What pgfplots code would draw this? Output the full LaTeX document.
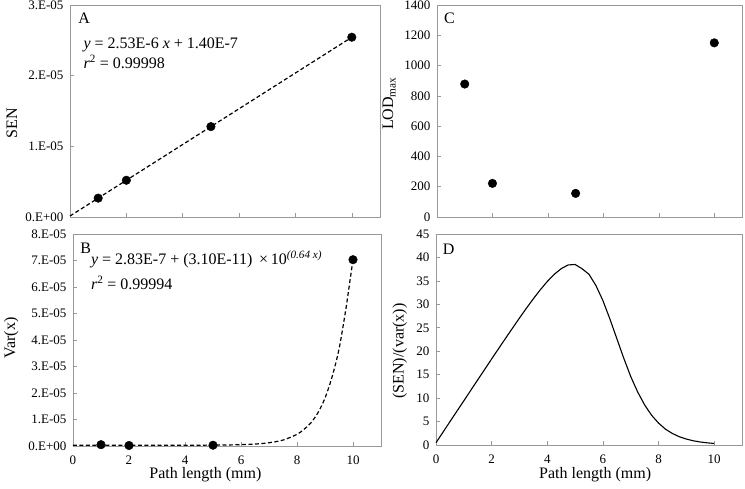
\documentclass[border=0pt]{standalone}
\usepackage{fontspec}
\setmainfont{Liberation Serif}
\usepackage{pgfplots}
\pgfplotsset{compat=1.18}

\newcommand{\ann}{\fontsize{16}{19}\selectfont}

\pgfplotsset{
  panel/.style={
    scale only axis, anchor=south west, clip=false,
    xmin=0, xmax=11, xtick={0,2,...,10},
    xtick pos=bottom, ytick pos=left, tick align=inside,
    axis line style={draw=gray!80, line width=0.8pt},
    tick style={draw=gray!80, line width=0.6pt},
    major tick length=4pt,
    tick label style={font=\fontsize{13}{15}\selectfont},
    label style={font=\ann},
    /pgf/number format/assume math mode=true,
    /pgf/number format/1000 sep={},
    yticklabel style={xshift=-3pt},
    xticklabel style={yshift=-6pt},
  },
  fitline/.style={black, line width=1.2pt, dash pattern=on 4pt off 2.5pt},
  dots/.style={only marks, mark=*, mark size=4.3pt, black},
}

\begin{document}
\begin{tikzpicture}
\useasboundingbox (0,0) rectangle (745pt,488pt);

% A
\begin{axis}[panel, at={(70pt,271pt)}, width=310pt, height=212pt,
  ymin=0, ymax=3e-5, ytick={0,1e-5,2e-5,3e-5},
  yticklabels={0.E+00,1.E-05,2.E-05,3.E-05}, scaled y ticks=false,
  xticklabels={},
  ylabel={SEN}, ylabel style={at={(axis description cs:-0.187,0.443)}, anchor=center}]
  \addplot[fitline] coordinates {(0,1.40e-7) (10,2.544e-5)};
  \addplot[dots] coordinates {(1,2.67e-6) (2,5.20e-6) (5,1.279e-5) (10,2.544e-5)};
  \node[anchor=north west, inner sep=0, font=\ann] at (axis description cs:0.026,0.962) {A};
  \node[anchor=base west, inner sep=0, font=\ann] at (axis description cs:0.043,0.796)
    {\textit{y} = 2.53E-6 \textit{x} + 1.40E-7};
  \node[anchor=base west, inner sep=0, font=\ann] at (axis description cs:0.043,0.70)
    {\textit{r}\textsuperscript{2} = 0.99998};
\end{axis}

% B
\begin{axis}[panel, at={(73pt,42pt)}, width=308pt, height=212pt,
  ymin=0, ymax=8e-5, ytick={0,1e-5,2e-5,3e-5,4e-5,5e-5,6e-5,7e-5,8e-5},
  yticklabels={0.E+00,1.E-05,2.E-05,3.E-05,4.E-05,5.E-05,6.E-05,7.E-05,8.E-05},
  scaled y ticks=false,
  xlabel={Path length (mm)}, xlabel style={at={(axis description cs:0.43,-0.137)}, anchor=center},
  ylabel={Var(x)}, ylabel style={at={(axis description cs:-0.2,0.51)}, anchor=center}]
  \addplot[fitline, smooth] coordinates {
    (0,3.0e-7) (1,3.0e-7) (2,3.0e-7) (3,3.0e-7) (4,3.1e-7) (5,3.3e-7)
    (5.5,3.9e-7) (6,5.0e-7) (6.5,7.3e-7) (7,1.22e-6) (7.5,2.24e-6)
    (8,4.4e-6) (8.25,6.3e-6) (8.5,8.8e-6) (8.75,1.26e-5) (9,1.81e-5)
    (9.25,2.6e-5) (9.5,3.65e-5) (9.75,5.2e-5) (9.9,6.3e-5) (10,7.03e-5)};
  \addplot[dots] coordinates {(1,5e-7) (2,2e-7) (5,3e-7) (10,7.03e-5)};
  \node[anchor=north west, inner sep=0, font=\ann] at (axis description cs:0.023,0.959) {B};
  \node[anchor=base west, inner sep=0, font=\ann] at (axis description cs:0.058,0.854)
    {\textit{y} = 2.83E-7 + (3.10E-11) \,×\,10\textsuperscript{\textit{(0.64 x)}}};
  \node[anchor=base west, inner sep=0, font=\ann] at (axis description cs:0.058,0.736)
    {\textit{r}\textsuperscript{2} = 0.99994};
\end{axis}

% C
\begin{axis}[panel, at={(437pt,271pt)}, width=305pt, height=212pt,
  ymin=0, ymax=1400, ytick={0,200,...,1400},
  xticklabels={},
  ylabel={LOD\textsubscript{max}}, ylabel style={at={(axis description cs:-0.157,0.535)}, anchor=center}]
  \addplot[dots] coordinates {(1,878) (2,222) (5,156) (10,1150)};
  \node[anchor=north west, inner sep=0, font=\ann] at (axis description cs:0.023,0.962) {C};
\end{axis}

% D
\begin{axis}[panel, at={(436pt,43pt)}, width=306pt, height=211pt,
  ymin=0, ymax=45, ytick={0,5,...,45},
  xlabel={Path length (mm)}, xlabel style={at={(axis description cs:0.52,-0.142)}, anchor=center},
  ylabel={(SEN)/(var(x))}, ylabel style={at={(axis description cs:-0.118,0.445)}, anchor=center}]
  \addplot[black, line width=1.1pt, line join=round] coordinates {
    (0,0.49) (0.25,2.73) (0.5,4.96) (0.75,7.20) (1,9.43) (1.25,11.66) (1.5,13.89)
    (1.75,16.12) (2,18.36) (2.25,20.55) (2.5,22.75) (2.75,24.92) (3,27.07)
    (3.25,29.17) (3.5,31.19) (3.75,33.11) (4,34.87) (4.25,36.4) (4.5,37.6)
    (4.75,38.4) (5,38.5) (5.25,37.6) (5.5,36.4) (5.75,34.0) (6,30.8)
    (6.25,26.9) (6.5,22.7) (6.75,18.5) (7,14.6) (7.25,11.3) (7.5,8.54)
    (7.75,6.35) (8,4.67) (8.25,3.37) (8.5,2.45) (8.75,1.75) (9,1.27)
    (9.25,0.90) (9.5,0.64) (9.75,0.46) (10,0.33)};
  \node[anchor=north west, inner sep=0, font=\ann] at (axis description cs:0.022,0.953) {D};
\end{axis}
\end{tikzpicture}
\end{document}
